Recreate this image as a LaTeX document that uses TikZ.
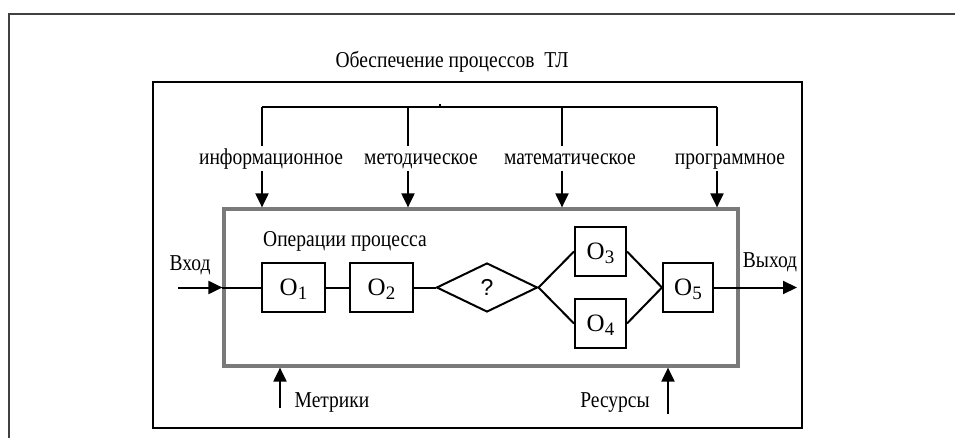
\documentclass[tikz,border=0pt]{standalone}
\usepackage{fontspec}
\setmainfont{Liberation Serif}[FakeStretch=0.86]
\newfontfamily\boxfont{Liberation Serif}
\newfontfamily\qfont{Liberation Sans}
\usetikzlibrary{shapes.geometric,arrows.meta}
\definecolor{frameC}{HTML}{404040}
\definecolor{procC}{HTML}{7A7A7A}
\newcommand{\opname}[1]{O\raisebox{-3.5pt}[0pt][0pt]{\fontsize{19}{19}\selectfont #1}}
\tikzset{
  txt/.style={inner sep=0pt, anchor=base, font=\fontsize{22.7}{26}\selectfont},
  opbox/.style={draw, line width=2pt, inner sep=0pt, minimum height=49, font=\boxfont\fontsize{25}{28}\selectfont},
  conn/.style={line width=2pt},
  arr/.style={line width=2pt, -{Triangle[length=14pt,width=13pt]}},
  thin/.style={line width=1.2pt},
}
\begin{document}
\begin{tikzpicture}[x=1pt,y=-1pt]
\useasboundingbox (0,0) rectangle (955,438);
% outer frame
\draw[frameC, line width=2pt] (8.7,439) -- (8.7,14.3) -- (956,14.3);
% title
\node[txt] (title) at (452,68) {Обеспечение процессов\ \ ТЛ};
% inner frame
\node[draw, line width=1.2pt, minimum width=649, minimum height=346, inner sep=0pt] (supp) at (477.5,255) {};
% process box
\node[draw=procC, line width=3.2pt, minimum width=514, minimum height=157, inner sep=0pt] (proc) at (481,287.5) {};
% bus
\coordinate (b1) at (262,107);
\coordinate (b2) at (408,107);
\coordinate (b3) at (562,107);
\coordinate (b4) at (717,107);
\coordinate (tick) at (440,104.5);
\draw[thin] (b1) -- (b4);
\draw[thin] (tick) -- (tick |- b1);
\coordinate (t1) at (262,146);
\coordinate (t2) at (408,146);
\coordinate (t3) at (562,146);
\coordinate (t4) at (717,146);
\draw[thin] (b1) -- (t1);
\draw[thin] (b2) -- (t2);
\draw[thin] (b3) -- (t3);
\draw[thin] (b4) -- (t4);
% labels
\node[txt] (l1) at (271,165) {информационное};
\node[txt] (l2) at (421,165) {методическое};
\node[txt] (l3) at (570,165) {математическое};
\node[txt] (l4) at (730,165) {программное};
\coordinate (a1) at (262,171);
\coordinate (a2) at (408,171);
\coordinate (a3) at (562,171);
\coordinate (a4) at (717,171);
\draw[arr] (a1) -- (a1 |- proc.north);
\draw[arr] (a2) -- (a2 |- proc.north);
\draw[arr] (a3) -- (a3 |- proc.north);
\draw[arr] (a4) -- (a4 |- proc.north);
% operations
\node[txt] (ops) at (345,247) {Операции процесса};
\node[opbox, minimum width=63] (O1) at (293.5,287.5) {\opname{1}};
\node[opbox, minimum width=63] (O2) at (381.5,287.5) {\opname{2}};
\node[draw, line width=2pt, diamond, aspect=2.06, inner sep=0pt, minimum width=101, minimum height=49, font=\qfont\fontsize{23}{25}\selectfont] (Q) at (487,287.5) {?};
\node[opbox, minimum width=51] (O3) at (600.5,251.5) {\opname{3}};
\node[opbox, minimum width=51] (O4) at (600.5,323.5) {\opname{4}};
\node[opbox, minimum width=50] (O5) at (688,287.5) {\opname{5}};
% input / output
\node[txt] (in) at (190,270) {Вход};
\node[txt] (out) at (770,268) {Выход};
\coordinate (inL) at (178,287.5);
\coordinate (outR) at (797,287.5);
\draw[arr] (inL) -- (proc.west);
\draw[conn] (proc.west) -- (O1);
\draw[conn] (O1) -- (O2);
\draw[conn] (O2) -- (Q);
\draw[conn] (Q.east) -- (O3.west);
\draw[conn] (Q.east) -- (O4.west);
\draw[conn] (O3.east) -- (O5.west);
\draw[conn] (O4.east) -- (O5.west);
\draw[arr] (O5) -- (outR);
% metrics / resources
\coordinate (m) at (280,408);
\coordinate (r) at (668,414);
\draw[arr] (m) -- (m |- proc.south);
\draw[arr] (r) -- (r |- proc.south);
\node[txt] (met) at (332,407) {Метрики};
\node[txt] (res) at (615,407) {Ресурсы};
\end{tikzpicture}
\end{document}
